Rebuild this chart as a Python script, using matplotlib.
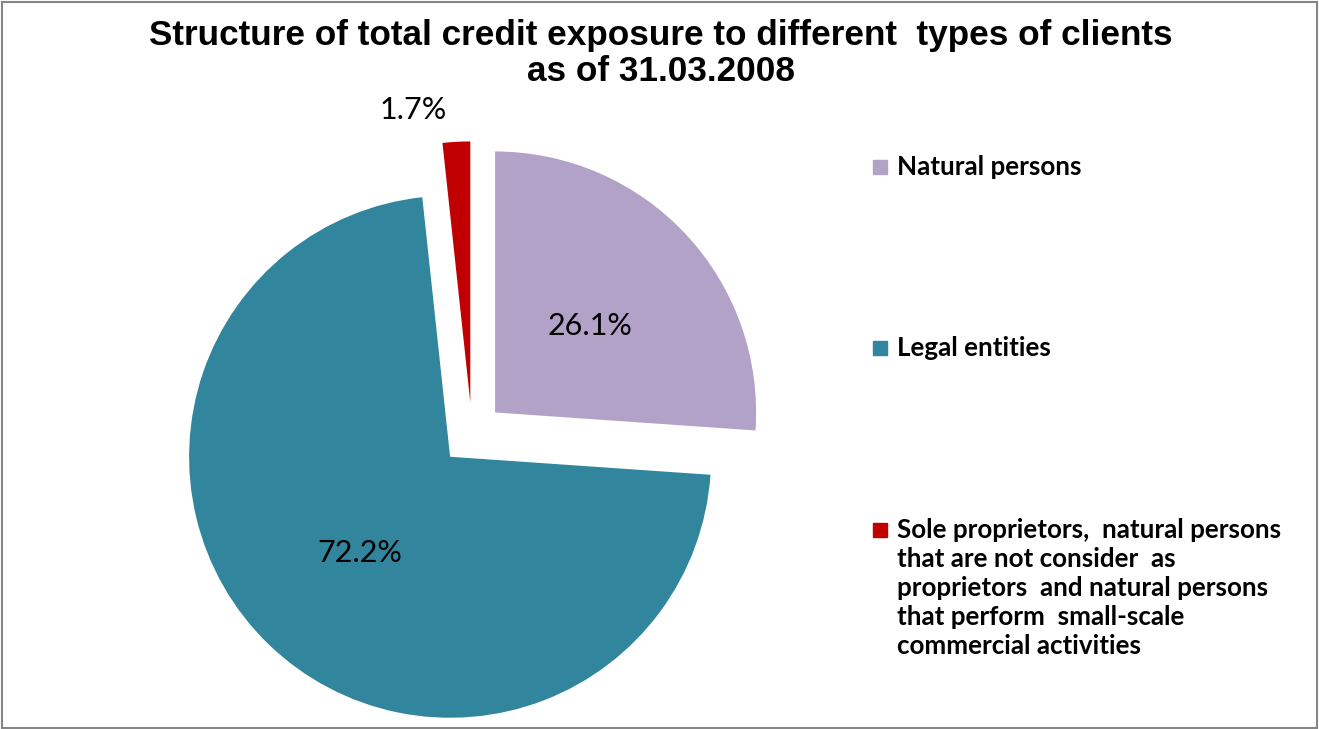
import matplotlib.pyplot as plt
from matplotlib.patches import Rectangle
import numpy as np

labels = ['Natural persons', 'Legal entities',
          'Sole proprietors,  natural persons\nthat are not consider  as\n'
          'proprietors  and natural persons\nthat perform  small-scale\ncommercial activities']
shares = [26.1, 72.2, 1.7]
colors = ['#B3A2C7', '#31859C', '#C00000']

W, H = 1319, 729
fig = plt.figure(figsize=(W / 100, H / 100), dpi=100)
ax = fig.add_axes([0, 0, 1, 1])

R = 261
wedges, texts, autotexts = ax.pie(
    shares, colors=colors, startangle=90, counterclock=False,
    explode=[0.121 * R] * 3, radius=R, center=(472, H - 434),
    autopct='%.1f%%', pctdistance=0.5,
    textprops=dict(family='Lato', fontsize=22, color='black'),
    wedgeprops=dict(linewidth=0))
for t in autotexts:
    t.set_va('center_baseline')

# small slice label sits outside the pie
w = wedges[2]
ang = np.deg2rad(101)
cx, cy = w.center
autotexts[2].set_position((cx + 1.15 * w.r * np.cos(ang), cy + 1.15 * w.r * np.sin(ang)))

ax.set_xlim(0, W)
ax.set_ylim(0, H)
ax.set_aspect('equal')
ax.axis('off')

fig.text(0.501, 1 - 19 / H,
         'Structure of total credit exposure to different  types of clients\nas of 31.03.2008',
         ha='center', va='top', family='Liberation Sans', weight='bold',
         fontsize=25.3, linespacing=1.1)

# legend drawn by hand so the marker lines up with the first text line
leg_y = [167, 348, 530]
for lab, col, y in zip(labels, colors, leg_y):
    fig.patches.append(Rectangle(((873) / W, 1 - (y + 7) / H), 14 / W, 14 / H,
                                 transform=fig.transFigure, color=col))
    fig.text(897 / W, 1 - (y - 12) / H, lab, ha='left', va='top',
             family='Lato', weight='bold', fontsize=18.7, linespacing=1.25)

fig.patches.append(Rectangle((2 / W, 1 / H), (W - 4) / W, (H - 3) / H,
                             transform=fig.transFigure, fill=False,
                             edgecolor='#868686', linewidth=1.5))

plt.savefig('out.png', dpi=100)
